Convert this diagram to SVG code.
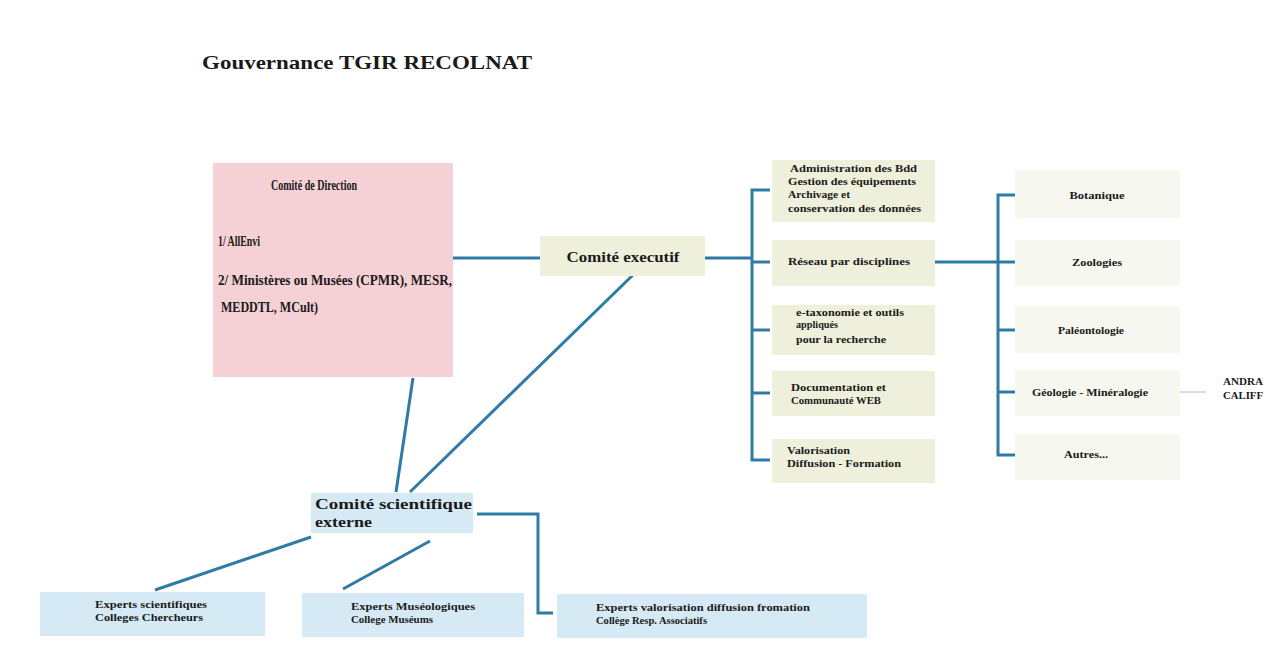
<svg xmlns="http://www.w3.org/2000/svg" width="1272" height="667" viewBox="0 0 1272 667">
<style>
  text { font-family: "Liberation Serif", "Times New Roman", serif; font-weight: bold; fill: #1a1a1a; }
  .ln { stroke: #2f7ba6; stroke-width: 3; fill: none; }
  .thin { stroke: #b8b8b8; stroke-width: 1; fill: none; }
  .pink { fill: #f5d0d5; }
  .beige { fill: #eef0dc; }
  .faint { fill: #f6f7ee; }
  .blue { fill: #d6eaf5; }
  .s { font-size: 10px; }
  .m { font-size: 11px; }
</style>
<rect width="1272" height="667" fill="#ffffff"/>
<text x="202" y="69" font-size="19" textLength="330" lengthAdjust="spacingAndGlyphs">Gouvernance TGIR RECOLNAT</text>

<g id="connectors">
  <line class="ln" x1="453" y1="258" x2="540" y2="258"/>
  <line class="ln" x1="705" y1="258" x2="752" y2="258"/>
  <polyline class="ln" points="770,190 752,190 752,460 770,460"/>
  <line class="ln" x1="752" y1="262" x2="770" y2="262"/>
  <line class="ln" x1="752" y1="330" x2="770" y2="330"/>
  <line class="ln" x1="752" y1="393" x2="770" y2="393"/>
  <line class="ln" x1="935" y1="262" x2="998" y2="262"/>
  <polyline class="ln" points="1015,195 998,195 998,455 1015,455"/>
  <line class="ln" x1="998" y1="262" x2="1015" y2="262"/>
  <line class="ln" x1="998" y1="330" x2="1015" y2="330"/>
  <line class="ln" x1="998" y1="392" x2="1015" y2="392"/>
  <line class="thin" x1="1176" y1="392" x2="1206" y2="392"/>
  <line class="ln" x1="413" y1="378" x2="396" y2="492"/>
  <line class="ln" x1="636" y1="272" x2="410" y2="492"/>
  <polyline class="ln" points="477,514 538,514 538,613 553,613"/>
  <line class="ln" x1="311" y1="537" x2="155" y2="590"/>
  <line class="ln" x1="430" y1="541" x2="343" y2="589"/>
</g>

<g id="direction">
  <rect class="pink" x="213" y="163" width="240" height="214"/>
  <text x="314" y="190" font-size="14" text-anchor="middle" textLength="86" lengthAdjust="spacingAndGlyphs">Comité de Direction</text>
  <text x="218" y="246" font-size="14" textLength="42" lengthAdjust="spacingAndGlyphs">1/ AllEnvi</text>
  <text x="218" y="285" font-size="15" textLength="234" lengthAdjust="spacingAndGlyphs">2/ Ministères ou Musées (CPMR), MESR,</text>
  <text x="221" y="312" font-size="15" textLength="97" lengthAdjust="spacingAndGlyphs">MEDDTL, MCult)</text>
</g>

<g id="executif">
  <rect class="beige" x="540" y="236" width="165" height="40"/>
  <text x="623" y="262" font-size="15" text-anchor="middle" textLength="113" lengthAdjust="spacingAndGlyphs">Comité executif</text>
</g>

<g id="admin">
  <rect class="beige" x="772" y="160" width="163" height="62"/>
  <text class="s" x="790" y="172" textLength="127" lengthAdjust="spacingAndGlyphs">Administration des Bdd</text>
  <text class="s" x="788" y="185" textLength="128" lengthAdjust="spacingAndGlyphs">Gestion des équipements</text>
  <text class="s" x="788" y="198" textLength="62" lengthAdjust="spacingAndGlyphs">Archivage et</text>
  <text class="s" x="788" y="212" textLength="133" lengthAdjust="spacingAndGlyphs">conservation des données</text>
</g>
<g id="reseau">
  <rect class="beige" x="772" y="240" width="163" height="46"/>
  <text class="s" x="788" y="265" textLength="122" lengthAdjust="spacingAndGlyphs">Réseau par disciplines</text>
</g>
<g id="etaxo">
  <rect class="beige" x="772" y="305" width="163" height="50"/>
  <text class="s" x="796" y="316" textLength="108" lengthAdjust="spacingAndGlyphs">e-taxonomie et outils</text>
  <text class="s" x="796" y="328" textLength="42" lengthAdjust="spacingAndGlyphs">appliqués</text>
  <text class="s" x="796" y="343" textLength="90" lengthAdjust="spacingAndGlyphs">pour la recherche</text>
</g>
<g id="documentation">
  <rect class="beige" x="772" y="371" width="163" height="45"/>
  <text class="s" x="791" y="391" textLength="95" lengthAdjust="spacingAndGlyphs">Documentation et</text>
  <text class="s" x="791" y="404" textLength="90" lengthAdjust="spacingAndGlyphs">Communauté WEB</text>
</g>
<g id="valorisation">
  <rect class="beige" x="772" y="439" width="163" height="44"/>
  <text class="s" x="787" y="454" textLength="63" lengthAdjust="spacingAndGlyphs">Valorisation</text>
  <text class="s" x="787" y="467" textLength="114" lengthAdjust="spacingAndGlyphs">Diffusion - Formation</text>
</g>

<g id="botanique">
  <rect class="faint" x="1015" y="170" width="165" height="48"/>
  <text class="s" x="1097" y="199" text-anchor="middle" textLength="55" lengthAdjust="spacingAndGlyphs">Botanique</text>
</g>
<g id="zoologies">
  <rect class="faint" x="1015" y="240" width="165" height="46"/>
  <text class="s" x="1097" y="266" text-anchor="middle" textLength="50" lengthAdjust="spacingAndGlyphs">Zoologies</text>
</g>
<g id="paleontologie">
  <rect class="faint" x="1015" y="306" width="165" height="47"/>
  <text class="s" x="1091" y="334" text-anchor="middle" textLength="66" lengthAdjust="spacingAndGlyphs">Paléontologie</text>
</g>
<g id="geologie">
  <rect class="faint" x="1015" y="370" width="165" height="46"/>
  <text class="s" x="1090" y="396" text-anchor="middle" textLength="116" lengthAdjust="spacingAndGlyphs">Géologie - Minéralogie</text>
</g>
<g id="autres">
  <rect class="faint" x="1015" y="434" width="165" height="46"/>
  <text class="s" x="1086" y="458" text-anchor="middle" textLength="44" lengthAdjust="spacingAndGlyphs">Autres...</text>
</g>
<g id="andra">
  <text class="s" x="1243" y="385" text-anchor="middle" textLength="40" lengthAdjust="spacingAndGlyphs">ANDRA</text>
  <text class="s" x="1243" y="399" text-anchor="middle" textLength="40" lengthAdjust="spacingAndGlyphs">CALIFF</text>
</g>

<g id="scientifique">
  <rect class="blue" x="311" y="493" width="162" height="40"/>
  <text x="315" y="509" font-size="15" textLength="157" lengthAdjust="spacingAndGlyphs">Comité scientifique</text>
  <text x="315" y="527" font-size="15" textLength="57" lengthAdjust="spacingAndGlyphs">externe</text>
</g>

<g id="experts-scientifiques">
  <rect class="blue" x="40" y="592" width="225" height="44"/>
  <text class="s" x="95" y="608" textLength="112" lengthAdjust="spacingAndGlyphs">Experts scientifiques</text>
  <text class="s" x="95" y="621" textLength="108" lengthAdjust="spacingAndGlyphs">Colleges Chercheurs</text>
</g>
<g id="experts-museologiques">
  <rect class="blue" x="302" y="593" width="222" height="44"/>
  <text class="s" x="351" y="610" textLength="124" lengthAdjust="spacingAndGlyphs">Experts Muséologiques</text>
  <text class="s" x="351" y="623" textLength="82" lengthAdjust="spacingAndGlyphs">College Muséums</text>
</g>
<g id="experts-valorisation">
  <rect class="blue" x="557" y="594" width="310" height="44"/>
  <text class="s" x="596" y="611" textLength="214" lengthAdjust="spacingAndGlyphs">Experts valorisation diffusion fromation</text>
  <text class="s" x="596" y="624" textLength="111" lengthAdjust="spacingAndGlyphs">Collège Resp. Associatifs</text>
</g>
</svg>
